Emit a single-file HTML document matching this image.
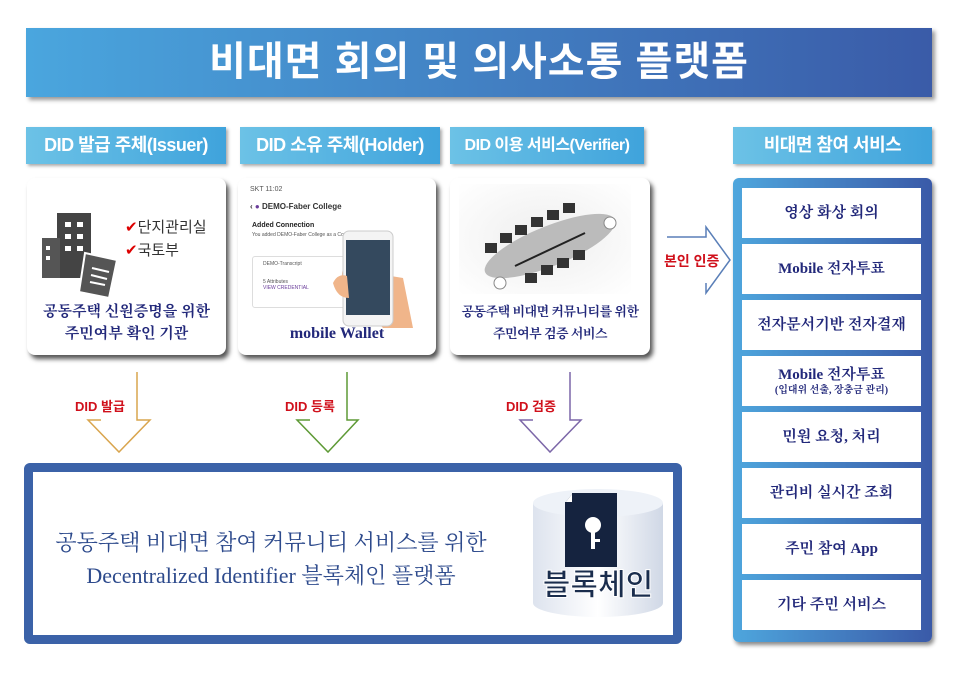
<!DOCTYPE html>
<html><head><meta charset="utf-8"><style>
*{margin:0;padding:0;box-sizing:border-box}
body{width:960px;height:680px;background:#fff;position:relative;overflow:hidden;font-family:"Liberation Sans","Noto Sans CJK KR",sans-serif}
.abs{position:absolute}
.title{left:26px;top:28px;width:906px;height:69px;background:linear-gradient(90deg,#4aa6de,#3a5ba8);box-shadow:3px 3px 4px #999;color:#fff;font-size:40px;font-weight:bold;text-align:center;line-height:69px;letter-spacing:1px}
.hd{top:127px;height:37px;background:linear-gradient(90deg,#6cc2e6,#3fa3dc);box-shadow:2px 2px 3px #aaa;color:#fff;font-size:18px;font-weight:bold;text-align:center;line-height:37px;white-space:nowrap;letter-spacing:-0.5px}
.card{top:178px;height:177px;background:#fff;border-radius:8px;box-shadow:3px 4px 5px #555;}
.ser{font-family:"Liberation Serif","Noto Serif CJK SC","Noto Sans CJK KR",serif;color:#22287a;font-weight:bold}
.cap{position:absolute;left:0;right:0;text-align:center;font-size:15px;line-height:22px;white-space:nowrap}
.panel{left:733px;top:178px;width:199px;height:464px;border-radius:6px;background:linear-gradient(90deg,#4ea6dd,#3a5aa8);box-shadow:2px 3px 4px #888}
.row{position:absolute;left:9px;width:179px;height:50px;background:#fff;text-align:center;font-size:15px;display:flex;align-items:center;justify-content:center;flex-direction:column;line-height:18px}
.lbl{color:#d0101b;font-size:13px;font-weight:bold}
</style></head><body>
<div class="abs title">비대면 회의 및 의사소통 플랫폼</div>
<div class="abs hd" style="left:26px;width:200px">DID 발급 주체(Issuer)</div>
<div class="abs hd" style="left:240px;width:200px">DID 소유 주체(Holder)</div>
<div class="abs hd" style="left:450px;width:194px;font-size:16px">DID 이용 서비스(Verifier)</div>
<div class="abs hd" style="left:733px;width:199px">비대면 참여 서비스</div>

<div class="abs card" style="left:27px;width:199px">
<svg class="abs" style="left:10px;top:30px" width="100" height="90">
<rect x="20" y="5" width="34" height="65" fill="#444"/><rect x="5" y="30" width="18" height="40" fill="#555"/>
<g fill="#fff"><rect x="28" y="14" width="6" height="5"/><rect x="40" y="14" width="6" height="5"/><rect x="28" y="26" width="6" height="5"/><rect x="40" y="26" width="6" height="5"/><rect x="28" y="38" width="6" height="5"/><rect x="40" y="38" width="6" height="5"/><rect x="9" y="38" width="4" height="4"/><rect x="9" y="48" width="4" height="4"/></g>
<path d="M48 45 L80 52 L72 90 L42 84 Z" fill="#555" stroke="#fff" stroke-width="2"/>
<path d="M55 60 L72 64 M54 67 L70 71 M53 74 L68 77" stroke="#fff" stroke-width="2"/>
</svg>
<div class="abs" style="left:98px;top:38px;font-size:15px;line-height:23px;color:#333"><span style="color:#d00">✔</span>단지관리실<br><span style="color:#d00">✔</span>국토부</div>
<div class="cap ser" style="top:123px;font-size:15px">공동주택 신원증명을 위한<br>주민여부 확인 기관</div>
</div>

<div class="abs card" style="left:238px;width:198px">
<div class="abs" style="left:12px;top:8px;font-size:7px;color:#555">SKT 11:02</div>
<div class="abs" style="left:12px;top:24px;font-size:8px;color:#333;font-weight:bold">‹ <span style="color:#6a3d9a">●</span> DEMO-Faber College</div>
<div class="abs" style="left:14px;top:44px;font-size:7px;color:#222;font-weight:bold">Added Connection</div>
<div class="abs" style="left:14px;top:54px;font-size:5px;color:#555">You added DEMO-Faber College as a Co</div>
<div class="abs" style="left:14px;top:78px;width:100px;height:52px;border:1px solid #ddd;border-radius:3px;font-size:5px;color:#555;padding:4px 10px">DEMO-Transcript<br><br><br>5 Attributes<br><span style="color:#6a3d9a">VIEW CREDENTIAL</span></div>
<svg class="abs" style="left:95px;top:50px" width="90" height="110">
<path d="M10 40 Q5 60 20 70 L50 100 L80 100 L70 50 Z" fill="#f0b58a"/>
<rect x="10" y="3" width="50" height="95" rx="6" fill="#f4f4f4" stroke="#ccc"/>
<rect x="13" y="12" width="44" height="75" fill="#34495e"/>
<path d="M0 55 Q5 45 14 48 L16 70 Q4 70 0 55Z" fill="#f0b58a"/>
</svg>
<div class="cap ser" style="top:145px;font-size:16px">mobile Wallet</div>
</div>

<div class="abs card" style="left:450px;width:200px">
<div class="abs" style="left:9px;top:6px;width:172px;height:110px;background:radial-gradient(ellipse at 50% 50%,#eee,#fff)"></div>
<svg class="abs" style="left:25px;top:20px" width="150" height="95">
<ellipse cx="75" cy="48" rx="70" ry="20" transform="rotate(-22 75 48)" fill="#bbb"/>
<line x1="40" y1="68" x2="110" y2="35" stroke="#222" stroke-width="2"/>
<g fill="#333"><rect x="10" y="45" width="12" height="10"/><rect x="25" y="35" width="12" height="10"/><rect x="40" y="27" width="12" height="10"/><rect x="56" y="19" width="12" height="10"/><rect x="72" y="12" width="12" height="10"/><rect x="88" y="5" width="12" height="10"/><rect x="50" y="75" width="12" height="10"/><rect x="66" y="67" width="12" height="10"/><rect x="82" y="60" width="12" height="10"/><rect x="98" y="52" width="12" height="10"/></g>
<circle cx="135" cy="25" r="6" fill="#fff" stroke="#888"/><circle cx="25" cy="85" r="6" fill="#fff" stroke="#888"/>
</svg>
<div class="cap ser" style="top:123px;font-size:13px;letter-spacing:-0.5px">공동주택 비대면 커뮤니티를 위한<br>주민여부 검증 서비스</div>
</div>

<svg class="abs" style="left:664px;top:225px" width="70" height="70">
<path d="M3 12 H42 V2 L66 35 L42 68 V58" fill="none" stroke="#5a7fb8" stroke-width="1.5"/>
</svg>
<div class="abs lbl" style="left:664px;top:251px;font-size:14px">본인 인증</div>

<svg class="abs" style="left:0;top:370px" width="700" height="90">
<g fill="none" stroke-width="1.5">
<path d="M137 2 V50 H150 L119 82 L88 50 H101" stroke="#d9a54e"/>
<path d="M347 2 V50 H358 L328 82 L297 50 H310" stroke="#5e9a36"/>
<path d="M570 2 V50 H581 L550 82 L520 50 H533" stroke="#7c67a8"/>
</g>
</svg>
<div class="abs lbl" style="left:75px;top:396px">DID 발급</div>
<div class="abs lbl" style="left:285px;top:396px">DID 등록</div>
<div class="abs lbl" style="left:506px;top:396px">DID 검증</div>

<div class="abs" style="left:24px;top:463px;width:658px;height:181px;border:9px solid #3b62a8;border-radius:6px;background:#fff"></div>
<div class="abs ser" style="left:36px;top:526px;width:470px;text-align:center;font-size:22px;line-height:33px;color:#2d4a8c;font-weight:normal">공동주택 비대면 참여 커뮤니티 서비스를 위한<br>Decentralized Identifier 블록체인 플랫폼</div>
<svg class="abs" style="left:525px;top:485px" width="150" height="135">
<defs><linearGradient id="cy" x1="0" x2="1"><stop offset="0" stop-color="#dde3ee"/><stop offset=".5" stop-color="#fff"/><stop offset="1" stop-color="#d0d8e6"/></linearGradient></defs>
<path d="M8 18 V118 A65 14 0 0 0 138 118 V18" fill="url(#cy)"/>
<ellipse cx="73" cy="18" rx="65" ry="14" fill="#eef2f8"/>
<path d="M48 8 H92 V82 H40 V18 Z" fill="#15233f"/><path d="M48 8 V18 H40" fill="#fff" stroke="#15233f" stroke-width="2"/>
<circle cx="68" cy="40" r="8" fill="#fff"/><rect x="66" y="44" width="4" height="20" fill="#fff"/><rect x="70" y="54" width="5" height="3" fill="#fff"/>
<text x="73" y="110" text-anchor="middle" font-size="30" font-weight="bold" fill="#1a2d4d" stroke="#fff" stroke-width="1" font-family="Noto Sans CJK KR,sans-serif">블록체인</text>
</svg>

<div class="abs panel">
<div class="row ser" style="top:10px">영상 화상 회의</div>
<div class="row ser" style="top:66px">Mobile 전자투표</div>
<div class="row ser" style="top:122px">전자문서기반 전자결재</div>
<div class="row ser" style="top:178px">Mobile 전자투표<span style="font-size:10px;line-height:13px">(입대위 선출, 장충금 관리)</span></div>
<div class="row ser" style="top:234px">민원 요청, 처리</div>
<div class="row ser" style="top:290px">관리비 실시간 조회</div>
<div class="row ser" style="top:346px">주민 참여 App</div>
<div class="row ser" style="top:402px">기타 주민 서비스</div>
</div>
</body></html>
